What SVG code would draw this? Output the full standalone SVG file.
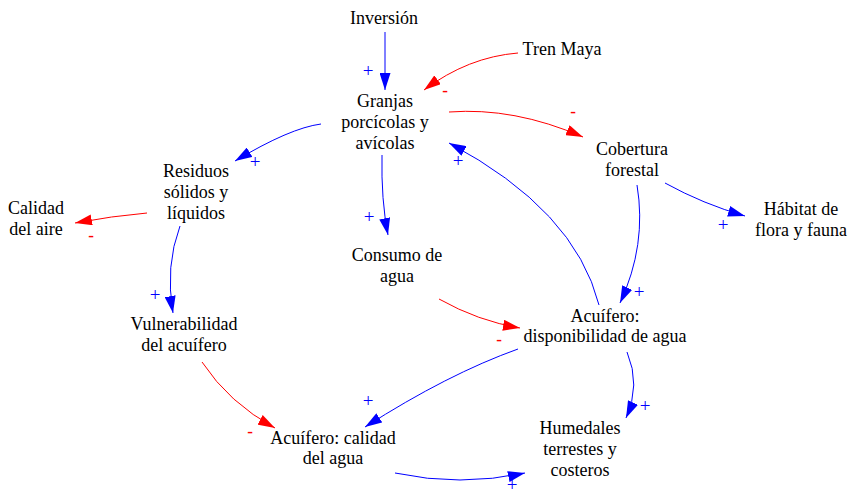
<svg xmlns="http://www.w3.org/2000/svg" width="860" height="496" viewBox="0 0 860 496">
<style>
.n{font-family:"Liberation Serif","Times New Roman",serif;font-size:18px;fill:#000;text-anchor:middle}
.b{fill:none;stroke:#0000FF;stroke-width:1;marker-end:url(#ab)}
.r{fill:none;stroke:#FF0000;stroke-width:1;marker-end:url(#ar)}
.p{font-family:"Liberation Serif","Times New Roman",serif;font-size:19px;fill:#0000FF;text-anchor:middle}
.m{font-family:"Liberation Serif","Times New Roman",serif;font-size:17px;font-weight:bold;fill:#FF0000;text-anchor:middle}
</style>
<defs>
<marker id="ab" viewBox="0 0 17 11" refX="17" refY="5.5" markerWidth="17" markerHeight="11" markerUnits="userSpaceOnUse" orient="auto"><path d="M0,0 L17,5.5 L0,11 Z" fill="#0000FF"/></marker>
<marker id="ar" viewBox="0 0 17 11" refX="17" refY="5.5" markerWidth="17" markerHeight="11" markerUnits="userSpaceOnUse" orient="auto"><path d="M0,0 L17,5.5 L0,11 Z" fill="#FF0000"/></marker>
</defs>
<rect width="860" height="496" fill="#fff"/>
<g id="connectors">
<path class="b" d="M385,32 L385,90"/>
<path class="r" d="M518,53 Q468,57 424,90"/>
<path class="r" d="M449,112 Q514,107 583,137"/>
<path class="b" d="M321,124 Q290,128 235,161"/>
<path class="r" d="M147,213 Q112,216 75,223"/>
<path class="b" d="M180,226 Q165,266 173,313"/>
<path class="b" d="M382,155 Q381,200 388,235"/>
<path class="b" d="M599,305 Q575,210 449,143"/>
<path class="b" d="M637,185 Q647,245 620,303"/>
<path class="b" d="M665,183 Q703,204 745,216"/>
<path class="r" d="M439,299 Q478,321 520,328"/>
<path class="b" d="M518,349 Q448,374 365,427"/>
<path class="b" d="M627,352 Q641,385 626,418"/>
<path class="r" d="M202,362 Q229,403 275,428"/>
<path class="b" d="M395,473 Q460,487 525,473"/>
<text class="p" x="368" y="77">+</text>
<text class="m" x="445" y="96">-</text>
<text class="m" x="573" y="117">-</text>
<text class="p" x="255" y="168">+</text>
<text class="m" x="91" y="241">-</text>
<text class="p" x="155" y="301">+</text>
<text class="p" x="369" y="223">+</text>
<text class="p" x="458" y="167">+</text>
<text class="p" x="639" y="298">+</text>
<text class="p" x="723" y="231">+</text>
<text class="m" x="499" y="345">-</text>
<text class="p" x="368" y="407">+</text>
<text class="p" x="645" y="412">+</text>
<text class="m" x="250" y="437">-</text>
<text class="p" x="512" y="491">+</text>
</g>
<g id="inversion"><text class="n" x="384" y="24">Inversión</text></g>
<g id="tren-maya"><text class="n" x="562" y="55">Tren Maya</text></g>
<g id="granjas"><text class="n" x="385" y="107">Granjas</text><text class="n" x="385" y="128">porcícolas y</text><text class="n" x="385" y="149">avícolas</text></g>
<g id="residuos"><text class="n" x="196" y="177">Residuos</text><text class="n" x="196" y="198">sólidos y</text><text class="n" x="196" y="219">líquidos</text></g>
<g id="calidad-aire"><text class="n" x="36" y="214">Calidad</text><text class="n" x="36" y="235">del aire</text></g>
<g id="cobertura"><text class="n" x="632" y="155">Cobertura</text><text class="n" x="632" y="176">forestal</text></g>
<g id="consumo"><text class="n" x="397" y="261">Consumo de</text><text class="n" x="397" y="282">agua</text></g>
<g id="habitat"><text class="n" x="801" y="215">Hábitat de</text><text class="n" x="801" y="236">flora y fauna</text></g>
<g id="vulnerabilidad"><text class="n" x="184" y="330">Vulnerabilidad</text><text class="n" x="184" y="351">del acuífero</text></g>
<g id="disponibilidad"><text class="n" x="605" y="322">Acuífero:</text><text class="n" x="605" y="342">disponibilidad de agua</text></g>
<g id="calidad-agua"><text class="n" x="333" y="444">Acuífero: calidad</text><text class="n" x="333" y="464">del agua</text></g>
<g id="humedales"><text class="n" x="580" y="434">Humedales</text><text class="n" x="580" y="455">terrestes y</text><text class="n" x="580" y="476">costeros</text></g>
</svg>
